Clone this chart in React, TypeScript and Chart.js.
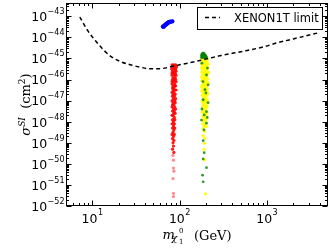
import React, { useEffect, useRef } from "react";
import { Chart, registerables } from "chart.js";

Chart.register(...registerables);

// ---- axis settings ----
const xMin = 5;
const xMax = 5000;
const yMin = 1e-52;
const yMax = 4.3e-43;
const xDecadeExponents = [1, 2, 3];
const yDecadeExponents = [-52, -51, -50, -49, -48, -47, -46, -45, -44, -43];

const legendLabel = "XENON1T limit";

// ---- XENON1T limit curve (mass GeV, sigma cm^2) ----
const xenonMass = [7.2, 8.8, 11, 13.5, 16.6, 20.6, 27, 35, 45, 59, 88, 130, 194, 300, 531, 900, 1300, 2000, 3750];
const xenonSigma = [9.3e-44, 2.2e-44, 6.6e-45, 2.5e-45, 1.2e-45, 7.4e-46, 5.1e-46, 3.9e-46, 3.3e-46, 3.3e-46, 4.5e-46, 6.3e-46, 9.1e-46, 1.4e-45, 2.2e-45, 3.5e-45, 5.5e-45, 8.5e-45, 1.6e-44];

// ---- scan points [mass, sigma] ----
const bluePoints: [number, number][] = [
  [64, 3.3e-44], [65, 3.1e-44], [66, 3.6e-44], [67, 3.4e-44], [68, 4.0e-44],
  [69, 3.8e-44], [70, 4.4e-44], [71, 4.2e-44], [72, 4.8e-44], [73, 4.6e-44],
  [74, 5.2e-44], [75, 5.0e-44], [76, 5.5e-44], [77, 5.3e-44], [78, 5.7e-44],
  [80, 5.8e-44], [82, 5.6e-44], [83, 5.9e-44], [71, 4.6e-44], [75, 5.4e-44],
  [66, 3.2e-44], [69, 4.1e-44], [73, 5.0e-44], [79, 5.5e-44],
];

const redPoints: [number, number][] = [
  [82, 5e-46], [86, 5e-46], [90, 5e-46],
  [84, 4e-46], [88, 4e-46], [92, 4e-46],
  [81, 3.2e-46], [86, 3.2e-46], [90, 3.2e-46],
  [83, 2.5e-46], [88, 2.5e-46], [91, 2.5e-46],
  [85, 2e-46], [89, 2e-46], [82, 2e-46],
  [82, 1.6e-46], [87, 1.6e-46], [91, 1.6e-46],
  [84, 1.25e-46], [89, 1.25e-46],
  [83, 1e-46], [87, 1e-46], [90, 1e-46],
  [85, 8e-47], [91, 8e-47], [82, 8e-47],
  [82, 6.3e-47], [88, 6.3e-47],
  [84, 5e-47], [90, 5e-47], [87, 5e-47],
  [86, 4e-47], [83, 4e-47],
  [88, 3.2e-47], [91, 3.2e-47], [84, 3.2e-47],
  [82, 2.5e-47], [86, 2.5e-47],
  [84, 2e-47], [89, 2e-47],
  [87, 1.6e-47], [83, 1.6e-47],
  [85, 1.25e-47], [90, 1.25e-47],
  [82, 1e-47], [88, 1e-47],
  [84, 8e-48], [89, 8e-48],
  [86, 6.3e-48], [83, 6.3e-48],
  [82, 5e-48], [88, 5e-48],
  [85, 4e-48], [90, 4e-48],
  [83, 3.2e-48], [87, 3.2e-48],
  [86, 2.5e-48], [89, 2.5e-48],
  [84, 2e-48], [82, 2e-48],
  [87, 1.6e-48],
  [83, 1.25e-48], [88, 1.25e-48],
  [85, 1e-48],
  [82, 8e-49], [87, 8e-49],
  [85, 6.3e-49],
  [83, 5e-49], [88, 5e-49],
  [86, 4e-49],
  [84, 3.2e-49],
  [87, 2.5e-49], [82, 2.5e-49],
  [85, 2e-49],
  [83, 1.6e-49],
  [86, 1.3e-49],
  [84, 1e-49],
  [85, 7e-50],
  [83, 5e-50],
  [86, 3.5e-50],
  [84, 2.5e-50],
  [85, 1.5e-50],
  [85, 6.3e-51],
  [86, 4.5e-51],
  [84, 2e-51],
  [85, 4e-52],
  [85, 2.8e-52],
];

const yellowPoints: [number, number][] = [
  [182, 1.1e-45], [192, 1.1e-45], [202, 1.1e-45],
  [178, 9e-46], [188, 9e-46], [198, 9e-46], [208, 9e-46],
  [185, 7e-46], [195, 7e-46], [205, 7e-46],
  [176, 5.5e-46], [190, 5.5e-46], [200, 5.5e-46], [212, 5.5e-46],
  [183, 4.5e-46], [195, 4.5e-46], [207, 4.5e-46],
  [178, 3.5e-46], [188, 3.5e-46], [200, 3.5e-46], [210, 3.5e-46],
  [184, 2.8e-46], [194, 2.8e-46], [204, 2.8e-46],
  [180, 2.2e-46], [190, 2.2e-46], [200, 2.2e-46], [214, 2.2e-46],
  [186, 1.8e-46], [197, 1.8e-46], [208, 1.8e-46],
  [178, 1.4e-46], [191, 1.4e-46], [203, 1.4e-46],
  [184, 1.1e-46], [196, 1.1e-46], [210, 1.1e-46],
  [180, 9e-47], [190, 9e-47], [202, 9e-47],
  [186, 7e-47], [198, 7e-47], [212, 7e-47],
  [182, 5.5e-47], [193, 5.5e-47], [205, 5.5e-47],
  [188, 4.5e-47], [200, 4.5e-47], [178, 4.5e-47],
  [184, 3.5e-47], [195, 3.5e-47], [208, 3.5e-47],
  [180, 2.8e-47], [191, 2.8e-47], [203, 2.8e-47],
  [186, 2.2e-47], [198, 2.2e-47], [211, 2.2e-47],
  [182, 1.8e-47], [194, 1.8e-47], [206, 1.8e-47],
  [188, 1.4e-47], [200, 1.4e-47],
  [184, 1.1e-47], [196, 1.1e-47], [208, 1.1e-47],
  [181, 9e-48], [192, 9e-48], [203, 9e-48],
  [187, 7e-48], [199, 7e-48],
  [183, 5.5e-48], [195, 5.5e-48], [207, 5.5e-48],
  [189, 4.5e-48], [201, 4.5e-48],
  [185, 3.5e-48], [197, 3.5e-48],
  [182, 2.8e-48], [193, 2.8e-48], [205, 2.8e-48],
  [188, 2.2e-48], [200, 2.2e-48],
  [185, 1.8e-48], [196, 1.8e-48],
  [191, 1.4e-48], [203, 1.4e-48],
  [187, 1.1e-48], [198, 1.1e-48],
  [184, 8e-49], [195, 8e-49],
  [190, 6e-49], [202, 6e-49],
  [186, 4.5e-49],
  [193, 3.5e-49],
  [186, 2.2e-49], [194, 1.66e-49],
  [194, 9.5e-50],
  [191, 4.9e-50],
  [194, 1.55e-50],
  [198, 3.8e-52],
];

const greenPoints: [number, number][] = [
  [183, 1.8e-45], [189, 1.8e-45],
  [180, 1.6e-45], [186, 1.6e-45], [193, 1.6e-45],
  [178, 1.4e-45], [184, 1.4e-45], [191, 1.4e-45], [198, 1.4e-45],
  [180, 1.25e-45], [187, 1.25e-45], [194, 1.25e-45], [201, 1.25e-45],
  [178, 1.1e-45], [183, 1.1e-45], [190, 1.1e-45], [197, 1.1e-45], [204, 1.1e-45],
  [180, 6e-46], [208, 3.5e-46], [203, 1.65e-46], [185, 8e-47],
  [212, 5.6e-47], [195, 3.3e-47], [200, 2.3e-47], [186, 1.1e-47],
  [212, 8e-48], [180, 4e-48], [203, 3e-48], [191, 2.1e-48],
  [207, 1.6e-48], [178, 1.2e-48], [203, 8.5e-49], [190, 4.1e-49],
  [186, 1.26e-49], [191, 3.4e-50], [186, 1.7e-50], [203, 6.6e-51],
  [183, 2.9e-51], [186, 1.4e-51],
];

const toXY = (pts: [number, number][]) => pts.map(([x, y]) => ({ x, y }));

function drawPower(
  ctx: CanvasRenderingContext2D,
  exp: string,
  x: number,
  baseline: number,
  align: "right" | "center",
  supRaise: number
) {
  const mainFont = '12.5px "DejaVu Sans"';
  const supFont = '8px "DejaVu Sans"';
  ctx.font = mainFont;
  const w1 = ctx.measureText("10").width;
  ctx.font = supFont;
  const w2 = ctx.measureText(exp).width;
  const total = w1 + 0.5 + w2;
  const start = align === "right" ? x - total : x - total / 2;
  ctx.textAlign = "left";
  ctx.textBaseline = "alphabetic";
  ctx.font = mainFont;
  ctx.fillText("10", start, baseline);
  ctx.font = supFont;
  ctx.fillText(exp, start + w1 + 0.5, baseline - supRaise);
}

const supDigits = (n: number) => (n < 0 ? "\u2212" + String(-n) : String(n));

const framePlugin = {
  id: "frameAndLabels",
  afterDraw(chart: any) {
    const ctx: CanvasRenderingContext2D = chart.ctx;
    const { left, right, top, bottom } = chart.chartArea;
    const xs = chart.scales.x;
    const ys = chart.scales.y;
    ctx.save();
    ctx.strokeStyle = "#000";
    ctx.fillStyle = "#000";
    ctx.lineWidth = 1;
    ctx.setLineDash([]);
    const L = Math.round(left) + 0.5;
    const R = Math.round(right) - 0.5;
    const T = Math.round(top) + 0.5;
    const B = Math.round(bottom) - 0.5;
    ctx.strokeRect(L, T, R - L, B - T);

    const majorLen = 5;
    const minorLen = 2.5;
    ctx.beginPath();
    for (let e = 0; e <= 3; e++) {
      for (let k = 1; k <= 9; k++) {
        const v = k * Math.pow(10, e);
        if (v <= xMin || v >= xMax) continue;
        const px = Math.round(xs.getPixelForValue(v)) + 0.5;
        const len = k === 1 ? majorLen : minorLen;
        ctx.moveTo(px, B);
        ctx.lineTo(px, B - len);
        ctx.moveTo(px, T);
        ctx.lineTo(px, T + len);
      }
    }
    for (let e = -52; e <= -43; e++) {
      for (let k = 1; k <= 9; k++) {
        const v = k * Math.pow(10, e);
        if (v < yMin * 0.999 || v >= yMax) continue;
        const py = Math.round(ys.getPixelForValue(v)) + 0.5;
        const len = k === 1 ? majorLen : minorLen;
        ctx.moveTo(L, py);
        ctx.lineTo(L + len, py);
        ctx.moveTo(R, py);
        ctx.lineTo(R - len, py);
      }
    }
    ctx.stroke();

    for (const e of xDecadeExponents) {
      const px = xs.getPixelForValue(Math.pow(10, e));
      drawPower(ctx, supDigits(e), px, 223, "center", 8);
    }
    for (const e of yDecadeExponents) {
      const py = ys.getPixelForValue(Math.pow(10, e));
      drawPower(ctx, supDigits(e), left - 1.5, py + 4.8, "right", 7);
    }

    // x axis title
    const cx = (left + right) / 2;
    ctx.textAlign = "left";
    ctx.font = '13px "DejaVu Serif"';
    const wGeV = ctx.measureText("(GeV)").width;
    const xStart = cx - (31.5 + wGeV) / 2;
    ctx.font = 'italic 13px "DejaVu Serif"';
    ctx.fillText("m", xStart, 238.5);
    ctx.font = 'italic 9.5px "DejaVu Serif"';
    ctx.fillText("\u03c7", xStart + 9, 241);
    ctx.font = '7px "DejaVu Serif"';
    ctx.fillText("0", xStart + 16.5, 233);
    ctx.fillText("1", xStart + 16.5, 243.5);
    ctx.font = '13px "DejaVu Serif"';
    ctx.fillText("(GeV)", xStart + 31.5, 239.5);

    // y axis title
    const pieces = [
      { t: "\u03c3", f: 'italic 13px "DejaVu Serif"', dy: 0 },
      { t: "SI", f: 'italic 9px "DejaVu Serif"', dy: -5.5 },
      { t: "  (cm", f: '13px "DejaVu Serif"', dy: 0 },
      { t: "2", f: '9px "DejaVu Serif"', dy: -5.5 },
      { t: ")", f: '13px "DejaVu Serif"', dy: 0 },
    ];
    let total = 0;
    const widths = pieces.map((p) => {
      ctx.font = p.f;
      const w = ctx.measureText(p.t).width;
      total += w;
      return w;
    });
    ctx.save();
    ctx.translate(30, (top + bottom) / 2);
    ctx.rotate(-Math.PI / 2);
    let xp = -total / 2;
    pieces.forEach((p, i) => {
      ctx.font = p.f;
      ctx.fillText(p.t, xp, p.dy);
      xp += widths[i];
    });
    ctx.restore();

    // legend
    ctx.fillStyle = "#fff";
    ctx.fillRect(197.5, 7.5, 125, 22);
    ctx.strokeStyle = "#000";
    ctx.lineWidth = 1;
    ctx.strokeRect(197.5, 7.5, 125, 22);
    ctx.beginPath();
    ctx.setLineDash([4, 3]);
    ctx.lineWidth = 1.5;
    ctx.moveTo(205, 17.5);
    ctx.lineTo(220, 17.5);
    ctx.stroke();
    ctx.setLineDash([]);
    ctx.fillStyle = "#000";
    ctx.font = '11.5px "DejaVu Sans"';
    ctx.fillText(legendLabel, 234, 21.5);
    ctx.restore();
  },
};

export default function App() {
  const canvasRef = useRef<HTMLCanvasElement | null>(null);

  useEffect(() => {
    document.body.style.margin = "0";
    const canvas = canvasRef.current;
    if (!canvas) return;
    const pointBase = { showLine: false, pointRadius: 1.6, pointBorderWidth: 0, pointHoverRadius: 0 };
    const fadeLow = (rgb: string, cut: number) => (c: any) => {
      const raw = c.raw as { y: number } | undefined;
      return raw && raw.y < cut ? `rgba(${rgb},0.45)` : `rgba(${rgb},0.9)`;
    };
    const chart = new Chart(canvas, {
      type: "scatter",
      data: {
        datasets: [
          {
            label: legendLabel,
            data: xenonMass.map((m, i) => ({ x: m, y: xenonSigma[i] })),
            showLine: true,
            borderColor: "#000",
            borderWidth: 1.5,
            borderDash: [4, 3],
            pointRadius: 0,
            cubicInterpolationMode: "monotone",
            fill: false,
          } as any,
          { label: "green", data: toXY(greenPoints), backgroundColor: "rgba(0,128,0,0.8)", ...pointBase, pointRadius: 1.4 } as any,
          { label: "yellow", data: toXY(yellowPoints), backgroundColor: "rgba(255,255,0,0.95)", ...pointBase } as any,
          { label: "red", data: toXY(redPoints), backgroundColor: fadeLow("255,0,0", 3e-50), ...pointBase } as any,
          { label: "blue", data: toXY(bluePoints), backgroundColor: "rgb(0,0,255)", ...pointBase, pointRadius: 1.9 } as any,
        ],
      },
      options: {
        responsive: false,
        animation: false,
        devicePixelRatio: 1,
        events: [],
        layout: { padding: { top: 3, right: 4, left: 0, bottom: 0 } },
        plugins: { legend: { display: false }, tooltip: { enabled: false } },
        scales: {
          x: {
            type: "logarithmic",
            min: xMin,
            max: xMax,
            grid: { display: false },
            border: { display: false },
            ticks: { display: false },
            afterFit: (s: any) => {
              s.height = 43;
            },
          },
          y: {
            type: "logarithmic",
            min: yMin,
            max: yMax,
            grid: { display: false },
            border: { display: false },
            ticks: { display: false },
            afterFit: (s: any) => {
              s.width = 66;
            },
          },
        },
      } as any,
      plugins: [framePlugin],
    });
    return () => chart.destroy();
  }, []);

  return (
    <div style={{ position: "absolute", left: 0, top: 0, width: 332, height: 249, background: "#fff" }}>
      <canvas ref={canvasRef} width={332} height={249} />
    </div>
  );
}
